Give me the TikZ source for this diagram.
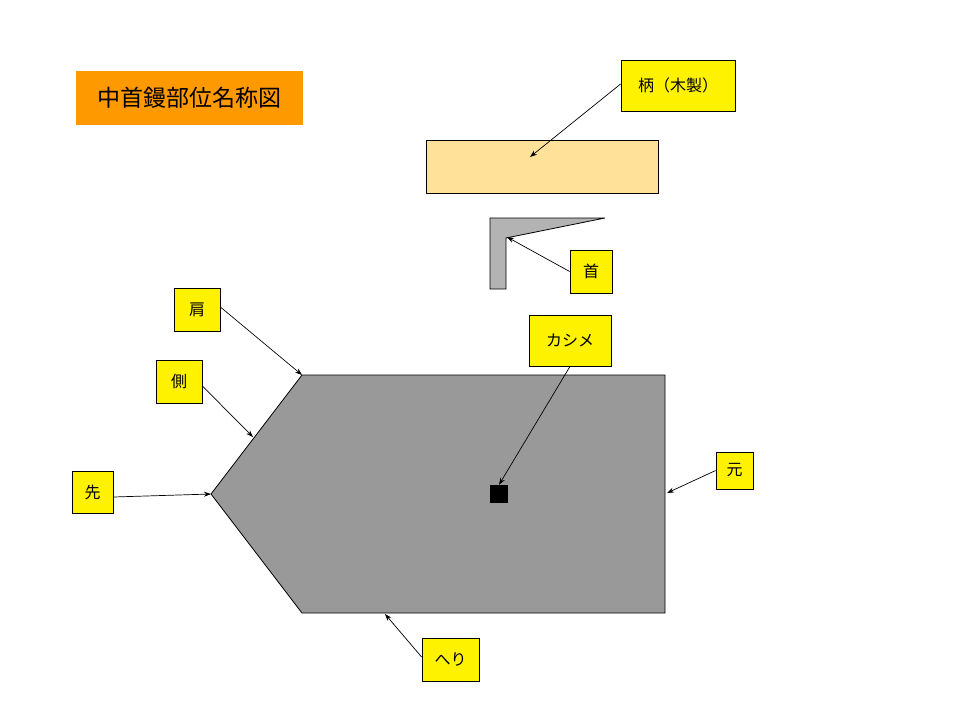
\documentclass[tikz,border=0pt]{standalone}
\usepackage{fontspec}
\setmainfont{Noto Sans CJK JP}
\usetikzlibrary{arrows.meta}
\definecolor{titleor}{HTML}{FF9900}
\definecolor{handle}{HTML}{FFE199}
\definecolor{neckg}{HTML}{B3B3B3}
\definecolor{bodyg}{HTML}{999999}
\tikzset{
  lbl/.style={draw=black, line width=0.8pt, fill=yellow, inner sep=0pt, font=\fontsize{16}{19}\selectfont},
  ptr/.style={draw=black, line width=0.7pt, -{Stealth[length=7pt,width=5pt]}},
}
\begin{document}
\begin{tikzpicture}[x=1pt,y=-1pt]
\useasboundingbox[fill=white] (0,0) rectangle (960,720);
% title
\node[fill=titleor, minimum width=227pt, minimum height=54pt, inner sep=0pt, font=\fontsize{23}{27}\selectfont] (title) at (189.5,98) {中首鏝部位名称図};
% handle
\node[draw=black, line width=0.8pt, fill=handle, minimum width=232pt, minimum height=53pt, inner sep=0pt] (handle) at (542,166.5) {};
\coordinate (handlept) at (530,157);
% neck
\draw[fill=neckg, line width=0.8pt] (490,218) -- (605,218) -- (506,238) -- (506,289) -- (490,289) -- cycle;
\coordinate (neckpt) at (507,237);
% body
\draw[fill=bodyg, line width=0.8pt] (302,375) -- (665,375) -- (665,613) -- (302,613) -- (211,494) -- cycle;
\node[fill=black, minimum width=18pt, minimum height=18pt, inner sep=0pt] (rivet) at (499,494) {};
\coordinate (shoulder) at (302,375);
\coordinate (side) at (253,437);
\coordinate (tip) at (211,494);
\coordinate (base) at (667,493);
\coordinate (edge) at (385,614);
% labels
\node[lbl, minimum width=114pt, minimum height=51pt] (lhandle) at (678,85.5) {柄（木製）};
\node[lbl, minimum width=42pt, minimum height=43pt] (lneck) at (591,271.5) {首};
\node[lbl, minimum width=82pt, minimum height=51pt] (lrivet) at (570,340.5) {カシメ};
\node[lbl, minimum width=37pt, minimum height=37pt] (lbase) at (734.5,470.5) {元};
\node[lbl, minimum width=57pt, minimum height=43pt] (ledge) at (450.5,659.5) {へり};
\node[lbl, minimum width=46pt, minimum height=43pt] (lshoulder) at (197,309.5) {肩};
\node[lbl, minimum width=46pt, minimum height=43pt] (lside) at (179,381.5) {側};
\node[lbl, minimum width=41pt, minimum height=42pt] (ltip) at (92.5,492) {先};
% arrows
\draw[ptr] (lhandle.west |- 0,84) -- (handlept);
\draw[ptr] (lneck.west) -- (neckpt);
\draw[ptr] (lrivet.south) -- (rivet.north);
\draw[ptr] (lbase.west) -- (base);
\draw[ptr] (ledge.west |- 0,657) -- (edge);
\draw[ptr] (lshoulder.east |- 0,307) -- (shoulder);
\draw[ptr] (lside.east |- 0,386) -- (side);
\draw[ptr] (ltip.east |- 0,497) -- (tip);
\end{tikzpicture}
\end{document}
